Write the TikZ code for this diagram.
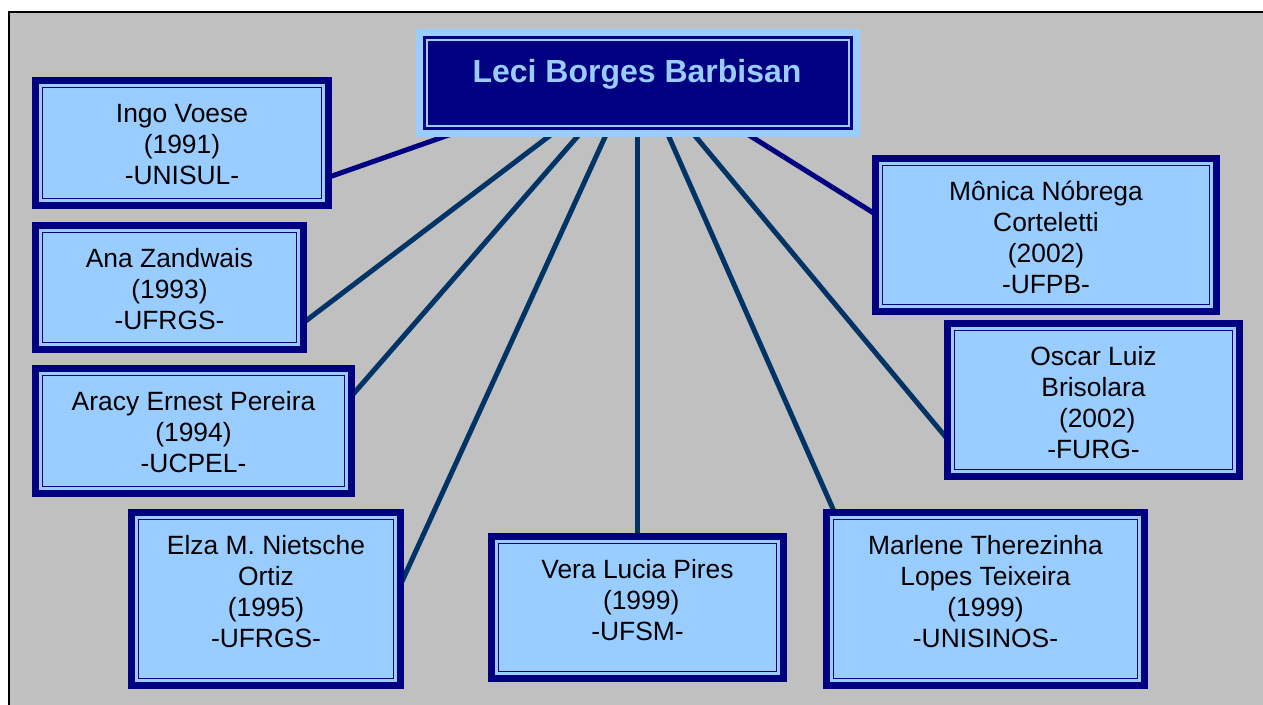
\documentclass[tikz,border=0pt]{standalone}
\usepackage{fontspec}
\setmainfont{Liberation Sans}
\usetikzlibrary{calc}
\definecolor{navyb}{HTML}{000080}
\definecolor{lblue}{HTML}{99CCFF}
\definecolor{connb}{HTML}{003366}
\definecolor{bggray}{HTML}{C0C0C0}
\pgfdeclarelayer{back}
\pgfdeclarelayer{lines}
\pgfsetlayers{back,lines,main}
\begin{document}
\frenchspacing
\begin{tikzpicture}[x=0.75pt,y=-0.75pt,
  pbox/.style={rectangle, fill=lblue, draw=navyb, line width=5.25pt, outer sep=2.625pt, inner sep=0pt,
    path picture={\draw[navyb, line width=1.1pt]
      ([shift={(5.1pt,-5.1pt)}]path picture bounding box.north west) rectangle
      ([shift={(-5.1pt,5.1pt)}]path picture bounding box.south east);}},
  lbox/.style={rectangle, fill=navyb, draw=lblue, line width=5.25pt, outer sep=2.625pt, inner sep=0pt,
    path picture={\draw[lblue, line width=1.1pt]
      ([shift={(5.6pt,-5.6pt)}]path picture bounding box.north west) rectangle
      ([shift={(-5.6pt,5.6pt)}]path picture bounding box.south east);}},
  txt/.style={align=center, inner sep=0pt, anchor=north, text=black,
    font=\fontsize{19.8}{23.25}\selectfont},
  ttl/.style={inner sep=0pt, anchor=base, text=lblue,
    font=\bfseries\fontsize{24}{28}\selectfont},
  conn/.style={line width=3.75pt, draw=connb, shorten <=-6pt, shorten >=-6pt}
]
\useasboundingbox (0,0) rectangle (1263,704);
\begin{pgfonlayer}{back}
\fill[white] (0,0) rectangle (1263,704);
\fill[bggray] (9,12) rectangle (1270,710);
\draw[black,line width=1.5pt] (1270,12) -- (9,12) -- (9,710);
\end{pgfonlayer}

% boxes
\node[lbox, minimum width=327.75pt, minimum height=75.75pt] (leci) at (638,83) {};
\node[pbox, minimum width=219.75pt, minimum height=93.75pt] (ingo) at (182,143) {};
\node[pbox, minimum width=201pt, minimum height=93pt] (ana) at (169.5,287.5) {};
\node[pbox, minimum width=237pt, minimum height=93.75pt] (aracy) at (193.5,431) {};
\node[pbox, minimum width=201.75pt, minimum height=129.75pt] (elza) at (266,599) {};
\node[pbox, minimum width=219pt, minimum height=106.5pt] (vera) at (637.5,607.5) {};
\node[pbox, minimum width=238.5pt, minimum height=129.75pt] (marlene) at (985.5,599) {};
\node[pbox, minimum width=255.75pt, minimum height=114.75pt] (monica) at (1046,235) {};
\node[pbox, minimum width=219pt, minimum height=114.75pt] (oscar) at (1093.5,400) {};

% texts
\node[ttl] (title) at (637,82) {Leci Borges Barbisan};
\node[txt] (ingo-t) at ($(ingo.north)+(0,23.7)$) {\rule{0pt}{16pt}Ingo Voese\\(1991)\\-UNISUL-};
\node[txt] (ana-t) at ($(ana.north)+(0,23.7)$) {\rule{0pt}{16pt}Ana Zandwais\\(1993)\\-UFRGS-};
\node[txt] (aracy-t) at ($(aracy.north)+(0,23.7)$) {\rule{0pt}{16pt}Aracy Ernest Pereira\\(1994)\\-UCPEL-};
\node[txt] (elza-t) at ($(elza.north)+(0,23.7)$) {\rule{0pt}{16pt}Elza M. Nietsche\\Ortiz\\(1995)\\-UFRGS-};
\node[txt] (vera-t) at ($(vera.north)+(0,23.7)$) {\rule{0pt}{16pt}Vera Lucia Pires\\\mbox{\ (1999)}\\-UFSM-};
\node[txt] (marlene-t) at ($(marlene.north)+(0,23.7)$) {\rule{0pt}{16pt}Marlene Therezinha\\Lopes Teixeira\\(1999)\\-UNISINOS-};
\node[txt] (monica-t) at ($(monica.north)+(0,23.7)$) {\rule{0pt}{16pt}Mônica Nóbrega\\Corteletti\\(2002)\\-UFPB-};
\node[txt] (oscar-t) at ($(oscar.north)+(0,23.7)$) {\rule{0pt}{16pt}Oscar Luiz\\Brisolara\\\mbox{\ (2002)}\\-FURG-};

% connectors
\begin{pgfonlayer}{lines}
\draw[conn, draw=navyb] ($(leci.south west)+(27,0)$) -- ($(ingo.north east)+(0,99)$);
\draw[conn] ($(leci.south west)+(132,0)$) -- ($(ana.north east)+(0,98)$);
\draw[conn] ($(leci.south west)+(161,0)$) -- ($(aracy.north east)+(0,27)$);
\draw[conn] ($(leci.south west)+(189,0)$) -- ($(elza.north east)+(0,68)$);
\draw[conn] (leci.south -| vera.north) -- (vera.north);
\draw[conn] ($(leci.south west)+(253,0)$) -- ($(marlene.north west)+(10,0)$);
\draw[conn] ($(leci.south west)+(280,0)$) -- ($(oscar.north west)+(0,115)$);
\draw[conn, draw=navyb] ($(leci.south west)+(336,0)$) -- ($(monica.north west)+(0,57)$);
\end{pgfonlayer}
\end{tikzpicture}
\end{document}
